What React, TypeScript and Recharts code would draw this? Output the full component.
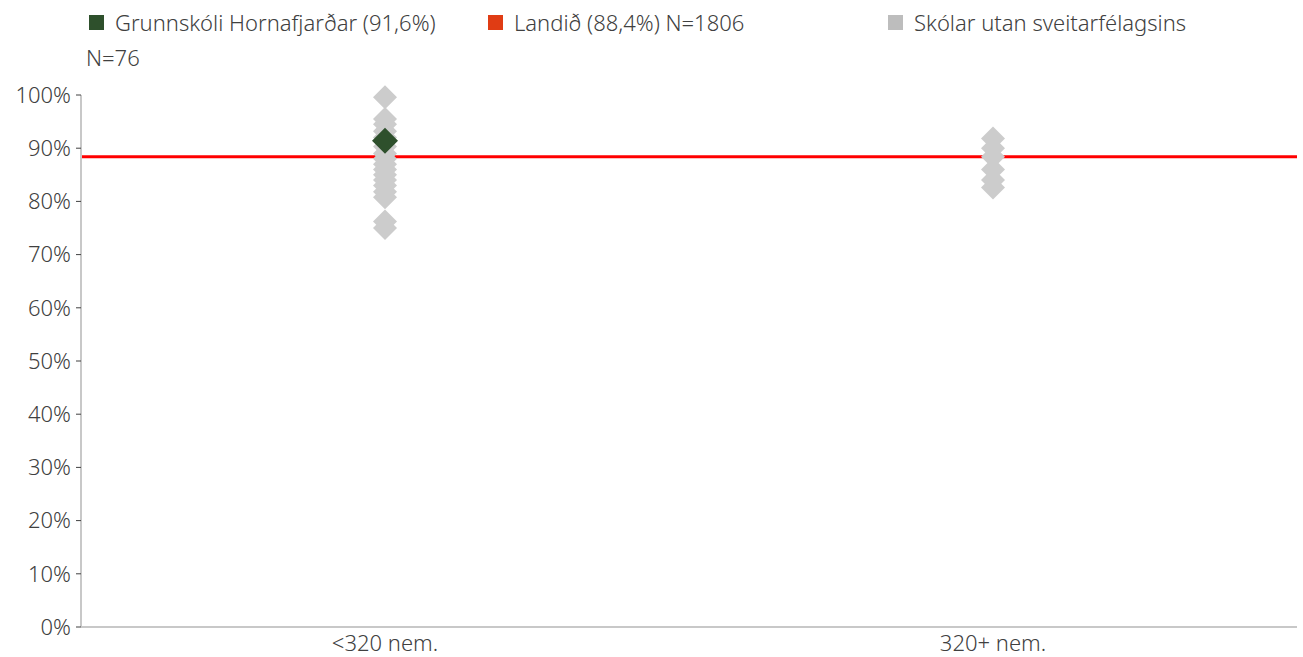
import { ScatterChart, Scatter, XAxis, YAxis, ReferenceLine } from 'recharts';

const categories = ['<320 nem.', '320+ nem.'];
const categoryPos = [0.5, 1.5];

// percentages
const otherSmall = [99.6, 95.5, 94.5, 93.2, 92, 90.3, 89, 88, 87, 86, 85, 84, 83, 81.8, 80.8, 76.2, 75];
const otherLarge = [91.8, 90, 88.4, 86, 84, 82.6];
const schoolValue = 91.4;
const nationalValue = 88.4;

const yTicks = [0, 10, 20, 30, 40, 50, 60, 70, 80, 90, 100];

const legendItems = [
  { label: 'Grunnskóli Hornafjarðar (91,6%)', color: '#2e502c', left: 89 },
  { label: 'Landið (88,4%) N=1806', color: '#e03c14', left: 488 },
  { label: 'Skólar utan sveitarfélagsins', color: '#bdbdbd', left: 888 },
];

const font = '"Noto Sans", sans-serif';
const textColor = '#404040';

const otherData = [
  ...otherSmall.map(v => ({ x: categoryPos[0], y: v })),
  ...otherLarge.map(v => ({ x: categoryPos[1], y: v })),
];
const schoolData = [{ x: categoryPos[0], y: schoolValue }];

function makeDiamond(fill: string, half: number) {
  return (props: any) => {
    const { cx, cy } = props;
    return (
      <polygon
        points={`${cx},${cy - half} ${cx + half},${cy} ${cx},${cy + half} ${cx - half},${cy}`}
        fill={fill}
      />
    );
  };
}

export default function App() {
  return (
    <div style={{ position: 'absolute', left: 0, top: 0, width: 1303, height: 657, background: '#fff', fontFamily: font, fontWeight: 300 }}>
      {/* Legend */}
      {legendItems.map(item => (
        <div
          key={item.label}
          style={{ position: 'absolute', left: item.left, top: 7, display: 'flex', alignItems: 'center', fontSize: 22, color: textColor, whiteSpace: 'nowrap' }}
        >
          <span style={{ display: 'inline-block', width: 15, height: 15, background: item.color, marginRight: 11 }} />
          <span>{item.label}</span>
        </div>
      ))}
      <div style={{ position: 'absolute', left: 86, top: 42, fontSize: 22, color: textColor }}>N=76</div>

      <ScatterChart width={1303} height={657} margin={{ top: 95, right: 6, bottom: 0, left: 11 }}>
        <XAxis
          type="number"
          dataKey="x"
          domain={[0, 2]}
          ticks={categoryPos}
          tickFormatter={(v: number) => categories[categoryPos.indexOf(v)] ?? ''}
          tickLine={false}
          axisLine={{ stroke: '#c8c8c8', strokeWidth: 2 }}
          tick={{ fill: textColor, fontSize: 22, fontFamily: font, fontWeight: 300 }}
          height={30}
          tickMargin={2}
        />
        <YAxis
          type="number"
          dataKey="y"
          domain={[0, 100]}
          ticks={yTicks}
          tickFormatter={(v: number) => `${v}%`}
          axisLine={{ stroke: '#c8c8c8', strokeWidth: 2 }}
          tickLine={{ stroke: textColor }}
          tickSize={5}
          tickMargin={5}
          tick={{ fill: textColor, fontSize: 22, fontFamily: font, fontWeight: 300 }}
          width={70}
          interval={0}
        />
        <ReferenceLine y={nationalValue} stroke="#ff0000" strokeWidth={3} />
        <Scatter data={otherData} fill="#cccccc" shape={makeDiamond('#cccccc', 12)} isAnimationActive={false} />
        <Scatter data={schoolData} fill="#2e502c" shape={makeDiamond('#2e502c', 13)} isAnimationActive={false} />
      </ScatterChart>
    </div>
  );
}
